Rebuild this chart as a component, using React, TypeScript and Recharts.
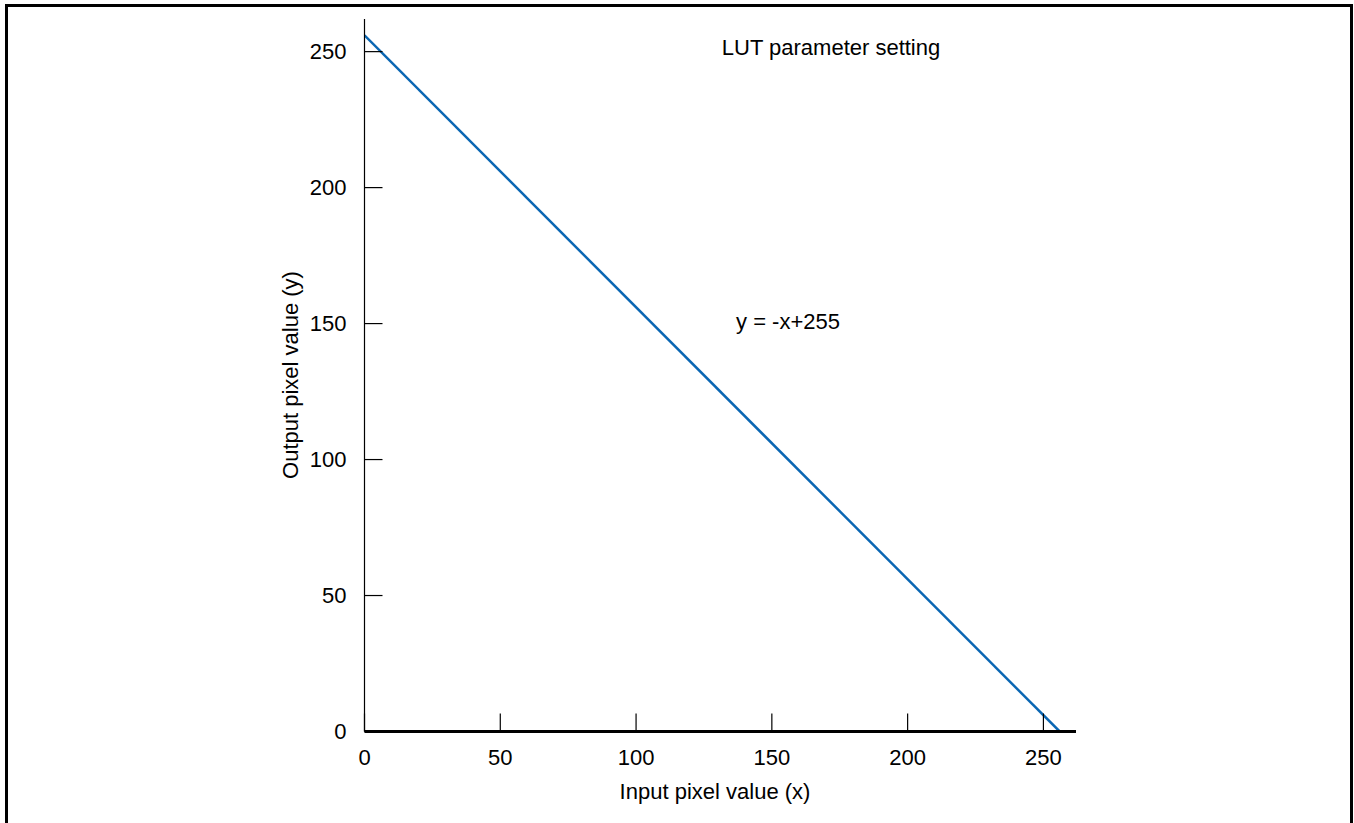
import React from 'react';
import { LineChart, Line, XAxis, YAxis } from 'recharts';

const inputValues = [0, 256];
const outputValues = [256, 0];
const xTicks = [0, 50, 100, 150, 200, 250];
const yTicks = [0, 50, 100, 150, 200, 250];
const chartTitle = 'LUT parameter setting';
const formulaText = 'y = -x+255';
const xLabel = 'Input pixel value (x)';
const yLabel = 'Output pixel value (y)';

const data = inputValues.map((x, i) => ({ x, y: outputValues[i] }));

const FONT = 'Arial, "Liberation Sans", Helvetica, sans-serif';
const FS = 22;

export default function App() {
  return (
    <div style={{ position: 'absolute', left: 0, top: 0, width: 1354, height: 823, overflow: 'hidden', background: '#fff', fontFamily: FONT }}>
      <div style={{ position: 'absolute', left: 5, top: 4, width: 1342, height: 900, border: '3px solid #000', boxSizing: 'content-box' }} />
      <LineChart
        width={1354}
        height={823}
        data={data}
        margin={{ top: 19, right: 278, bottom: 31.5, left: 304.5 }}
        style={{ position: 'absolute', left: 0, top: 0 }}
      >
        <XAxis
          type="number"
          dataKey="x"
          domain={[0, 262]}
          ticks={xTicks}
          allowDataOverflow
          height={60}
          axisLine={{ stroke: '#000', strokeWidth: 3 }}
          tickLine={{ stroke: '#000', strokeWidth: 1.2 }}
          tickSize={-18}
          tickMargin={36}
          tick={{ fill: '#000', fontSize: FS, fontFamily: FONT }}
        />
        <YAxis
          type="number"
          dataKey="y"
          domain={[0, 262]}
          ticks={yTicks}
          allowDataOverflow
          width={60}
          axisLine={{ stroke: '#000', strokeWidth: 1.2 }}
          tickLine={{ stroke: '#000', strokeWidth: 1.2 }}
          tickSize={-18}
          tickMargin={36}
          tick={{ fill: '#000', fontSize: FS, fontFamily: FONT }}
        />
        <Line
          type="linear"
          dataKey="y"
          stroke="#0a66b3"
          strokeWidth={2.5}
          dot={false}
          activeDot={false}
          isAnimationActive={false}
        />
      </LineChart>
      <div style={{ position: 'absolute', left: 831, top: 48, transform: 'translate(-50%, -50%)', fontSize: FS, whiteSpace: 'nowrap', color: '#000' }}>{chartTitle}</div>
      <div style={{ position: 'absolute', left: 788, top: 322, transform: 'translate(-50%, -50%)', fontSize: FS, whiteSpace: 'nowrap', color: '#000' }}>{formulaText}</div>
      <div style={{ position: 'absolute', left: 715, top: 792, transform: 'translate(-50%, -50%)', fontSize: FS, whiteSpace: 'nowrap', color: '#000' }}>{xLabel}</div>
      <div style={{ position: 'absolute', left: 291, top: 375, transform: 'translate(-50%, -50%) rotate(-90deg)', fontSize: FS, whiteSpace: 'nowrap', color: '#000' }}>{yLabel}</div>
    </div>
  );
}
